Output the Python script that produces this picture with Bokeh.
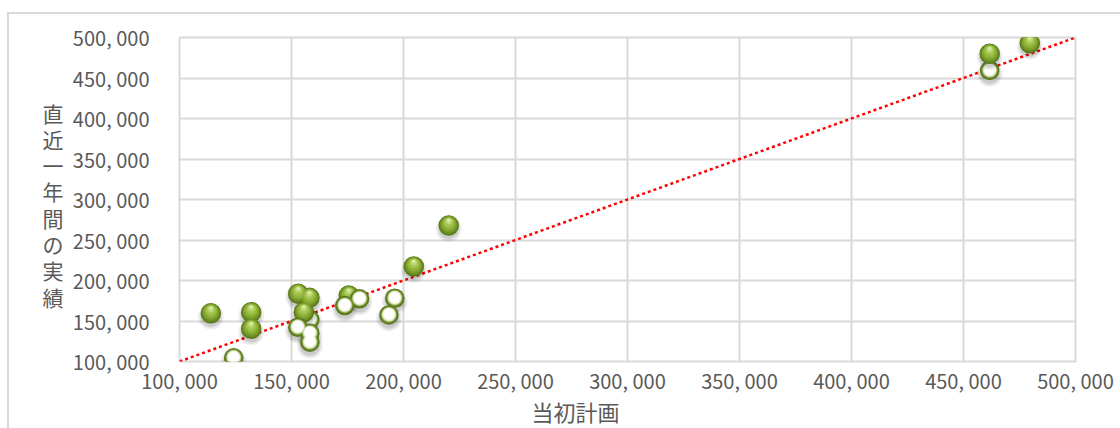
from bokeh.plotting import figure
from bokeh.models import Range1d, FixedTicker, LinearAxis, ColumnDataSource
from bokeh.transform import dodge
from bokeh.embed import file_html
from bokeh.resources import INLINE

# 当初計画 (x) vs 直近一年間の実績 (y)
solid_plan = [114000, 132000, 132000, 153000, 158000, 155500, 175600, 204600, 220200, 461700, 479600]
solid_actual = [159600, 160900, 140400, 183600, 178600, 160900, 181500, 217300, 267900, 479900, 493000]

# hollow markers, drawn beneath the solid ones
hollow_back_plan = [158200, 461700]
hollow_back_actual = [151800, 459300]

# hollow markers, drawn above the solid ones
hollow_front_plan = [124200, 152800, 158200, 158200, 173800, 180400, 196100, 193500]
hollow_front_actual = [104600, 142300, 134900, 123800, 169100, 177400, 178100, 157500]

# reference line: plan == actual
diag = [100000, 500000]

tick_values = [100000, 150000, 200000, 250000, 300000, 350000, 400000, 450000, 500000]
tick_labels = ["100, 000", "150, 000", "200, 000", "250, 000", "300, 000",
               "350, 000", "400, 000", "450, 000", "500, 000"]

x_title = "当初計画"
y_title = "直近一年間の実績"

W, H = 1120, 428
LEFT, RIGHT, TOP, BOTTOM = 179, 45, 37, 67
XMIN, XMAX, YMIN, YMAX = 100000, 500000, 100000, 500000

frame_w = W - LEFT - RIGHT
frame_h = H - TOP - BOTTOM
ux = (XMAX - XMIN) / frame_w   # data units per pixel
uy = (YMAX - YMIN) / frame_h


def dx(px):
    """page x (pixels from left) -> data x"""
    return int(round(XMIN + (px - LEFT) * ux))


def dy(py):
    """page y (pixels from top) -> data y"""
    return int(round(YMIN + ((H - BOTTOM) - py) * uy))


TEXT = "#595959"
GRID = "#d9d9d9"
FONT = "Noto Sans CJK JP"
# Latin face first keeps the measured line box compact; CJK glyphs fall back
TITLE_FONT = "'Liberation Sans', 'Noto Sans CJK JP'"

p = figure(width=W, height=H, output_backend="svg", toolbar_location=None,
           x_range=Range1d(XMIN, XMAX), y_range=Range1d(YMIN, YMAX),
           min_border_left=LEFT, min_border_right=RIGHT,
           min_border_top=TOP, min_border_bottom=BOTTOM)

p.background_fill_color = "white"
p.border_fill_color = None
p.outline_line_color = GRID
p.outline_line_width = 2

# outer chart-area border (left and top edges; the rest runs off the page)
p.styles = {
    "background-color": "white",
    "background-image": f"linear-gradient({GRID}, {GRID}), linear-gradient({GRID}, {GRID})",
    "background-position": "7px 12px, 7px 12px",
    "background-size": "2px 100%, 100% 2px",
    "background-repeat": "no-repeat",
}


def plain(ax):
    ax.axis_line_color = None
    ax.major_tick_line_color = None
    ax.minor_tick_line_color = None
    ax.major_tick_out = 0
    ax.major_tick_in = 0
    ax.minor_tick_out = 0
    ax.minor_tick_in = 0
    ax.axis_label_standoff = 0


overrides = {v: t for v, t in zip(tick_values, tick_labels)}
for ax in (p.xaxis[0], p.yaxis[0]):
    plain(ax)
    ax.ticker = FixedTicker(ticks=tick_values)
    ax.major_label_overrides = overrides
    ax.major_label_text_font = FONT
    ax.major_label_text_font_size = "20px"
    ax.major_label_text_color = TEXT
p.xaxis[0].major_label_standoff = 4
p.yaxis[0].major_label_standoff = 30

for g in (p.xgrid[0], p.ygrid[0]):
    g.grid_line_color = GRID
    g.grid_line_width = 2

# x-axis title: a bare outer axis carrying one label
x_title_pos = dx(575)
x_title_axis = LinearAxis(ticker=FixedTicker(ticks=[x_title_pos]),
                          major_label_overrides={x_title_pos: x_title},
                          major_label_standoff=3,
                          major_label_text_font=TITLE_FONT,
                          major_label_text_font_size="22px",
                          major_label_text_color=TEXT)
plain(x_title_axis)
p.add_layout(x_title_axis, "below")

# y-axis title written top to bottom, one upright character per row
rows = [dy(112 + 26.3 * i) for i in range(len(y_title))]
y_title_axis = LinearAxis(ticker=FixedTicker(ticks=rows),
                          major_label_overrides={r: ch for r, ch in zip(rows, y_title)},
                          major_label_standoff=6,
                          major_label_text_font=FONT,
                          major_label_text_font_size="21px",
                          major_label_text_color=TEXT)
plain(y_title_axis)
p.add_layout(y_title_axis, "left")

# dotted y = x line
p.line(diag, diag, line_color="#ff0000", line_width=2.5, line_dash="3 3")

solid_src = ColumnDataSource(dict(x=solid_plan, y=solid_actual))
back_src = ColumnDataSource(dict(x=hollow_back_plan, y=hollow_back_actual))
front_src = ColumnDataSource(dict(x=hollow_front_plan, y=hollow_front_actual))


def shadow(src):
    for size, alpha in ((26, 0.05), (23, 0.07), (20, 0.09)):
        p.scatter(x="x", y=dodge("y", -3.5 * uy), source=src, size=size,
                  fill_color="#000000", fill_alpha=alpha, line_color=None)


def sphere(src):
    shadow(src)
    layers = [(20.5, "#587819", 0.0), (18.5, "#6a8c22", 0.5), (16, "#7ea02d", 1.2),
              (13, "#91b43b", 2.0), (9.5, "#a6c652", 3.0), (6, "#bfd978", 4.2),
              (3, "#dcedaa", 5.2)]
    for size, color, off in layers:
        p.scatter(x="x", y=dodge("y", off * uy), source=src, size=size,
                  fill_color=color, line_color=None)


def ring(src):
    shadow(src)
    layers = [(19.5, "#5a781f", 0.0), (16.5, "#7d9a3a", 0.3), (14.5, "#c4d59a", 0.4),
              (13, "#eef4de", 0.5), (11, "#ffffff", 1.0)]
    for size, color, off in layers:
        p.scatter(x="x", y=dodge("y", off * uy), source=src, size=size,
                  fill_color=color, line_color=None)


ring(back_src)
sphere(solid_src)
ring(front_src)

open("out.html", "w").write(file_html(p, INLINE))
